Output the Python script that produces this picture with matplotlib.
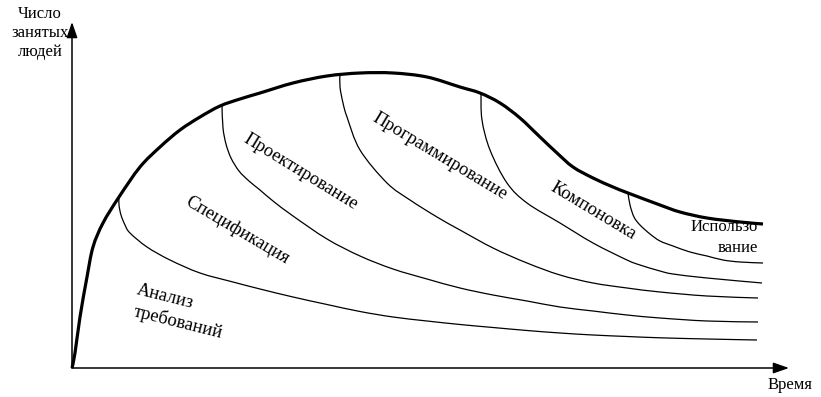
import matplotlib
matplotlib.use("Agg")
import matplotlib.pyplot as plt
import numpy as np
from matplotlib.patches import FancyArrowPatch, PathPatch
from matplotlib.path import Path

# Data (time units along x, number of people along y; origin at axes corner)
envelope_x = [0, 3, 8, 15, 21, 31, 47, 68, 88, 108, 128, 148, 168, 188, 221, 255, 288, 321, 355,
              388, 408, 428, 448, 468, 485, 501, 521, 541, 556, 588, 608, 635, 668, 691]
envelope_y = [0, 15, 51, 91, 121, 145, 171, 201, 221, 238, 251, 262, 269, 275, 285, 292, 295, 295, 291,
              281, 275, 265, 250, 231, 215, 201, 190, 181, 175, 163, 156, 150, 146, 144]

b1_x = [47, 47, 49, 53, 58, 75, 98, 128, 161, 188, 221, 255, 288, 321, 355, 388, 421, 455, 488, 521, 555, 588, 635, 685]
b1_y = [171, 163, 153, 143, 135, 121, 108, 95, 86, 79, 71, 63.5, 56.5, 51, 47, 43.5, 40.5, 37.5, 35, 33, 31.5, 30.2, 29, 28]

b2_x = [150, 151, 154, 159, 167, 177, 188, 201, 221, 255, 288, 321, 355, 388, 421, 455, 488, 521, 555, 588, 635, 686]
b2_y = [262, 240, 224, 210, 197, 187, 178, 167, 152, 129, 112, 99, 89, 80, 73, 67, 61, 57, 53, 50, 47, 46]

b3_x = [268, 268, 271, 275, 288, 315, 338, 365, 388, 421, 455, 488, 521, 555, 588, 635, 686]
b3_y = [294, 281, 265, 251, 218, 185, 168, 151, 138, 120, 105, 93, 85, 80, 76, 72, 70]

b4_x = [409, 410, 418, 435, 455, 488, 521, 555, 568, 588, 601, 635, 690]
b4_y = [275, 248, 218, 185, 165, 145, 125, 108, 103, 97, 94, 90, 85]

b5_x = [556, 558, 562, 568, 578, 588, 601, 618, 635, 651, 668, 691]
b5_y = [175, 163, 151, 143, 134, 127, 122, 116, 112, 108, 106, 105]

x_end = 717
y_end = 346

labels = ["Анализ", "требований", "Спецификация", "Проектирование",
          "Программирование", "Компоновка"]
label_pos = [(93, 71), (106, 46), (165, 138), (229, 196), (368, 212), (521, 157)]
label_rot = [-14, -14, -30.5, -31.5, -31, -31]

use_lines = ["Использо", "вание"]
use_pos = [(686, 141), (686, 120)]

ylabel = "Число\nзанятых\nлюдей"
xlabel = "Время"

FONT = ["Liberation Serif", "DejaVu Serif"]


def smooth_path(xs, ys):
    """Catmull-Rom through the read points, rendered as cubic Bezier segments."""
    p = np.column_stack([xs, ys]).astype(float)
    n = len(p)
    verts = [p[0]]
    codes = [Path.MOVETO]
    for i in range(n - 1):
        p0 = p[i - 1] if i > 0 else p[i]
        p1 = p[i]
        p2 = p[i + 1]
        p3 = p[i + 2] if i + 2 < n else p[i + 1]
        c1 = p1 + (p2 - p0) / 6.0
        c2 = p2 - (p3 - p1) / 6.0
        verts += [c1, c2, p2]
        codes += [Path.CURVE4] * 3
    return Path(verts, codes)


fig = plt.figure(figsize=(8.21, 3.97), dpi=100)
ax = fig.add_axes([0, 0, 1, 1])
ax.set_xlim(-72, 749)
ax.set_ylim(-29, 368)
ax.axis("off")

# axes with arrows
for end in [(x_end, 0), (0, y_end)]:
    arr = FancyArrowPatch((0, 0), end, arrowstyle="-|>,head_length=0.95,head_width=0.33",
                          mutation_scale=10, lw=1.1, color="black", shrinkA=0, shrinkB=0)
    ax.add_patch(arr)

# boundary curves
for bx, by in [(b1_x, b1_y), (b2_x, b2_y), (b3_x, b3_y), (b4_x, b4_y), (b5_x, b5_y)]:
    ax.add_patch(PathPatch(smooth_path(bx, by), fill=False, edgecolor="black", lw=0.9,
                           capstyle="butt", joinstyle="round"))

ax.add_patch(PathPatch(smooth_path(envelope_x, envelope_y), fill=False, edgecolor="black", lw=2.3,
                       capstyle="butt", joinstyle="round"))

for t, (x, y), r in zip(labels, label_pos, label_rot):
    ax.text(x, y, t, rotation=r, rotation_mode="anchor", ha="center", va="center",
            fontsize=13.3, family=FONT)

for t, (x, y) in zip(use_lines, use_pos):
    ax.text(x, y, t, ha="right", va="center", fontsize=12, family=FONT)

ax.text(-32, 335, ylabel, ha="center", va="center", fontsize=12, family=FONT, linespacing=1.25)
ax.text(718, -17, xlabel, ha="center", va="center", fontsize=12, family=FONT)

fig.savefig("out.png", dpi=100)
